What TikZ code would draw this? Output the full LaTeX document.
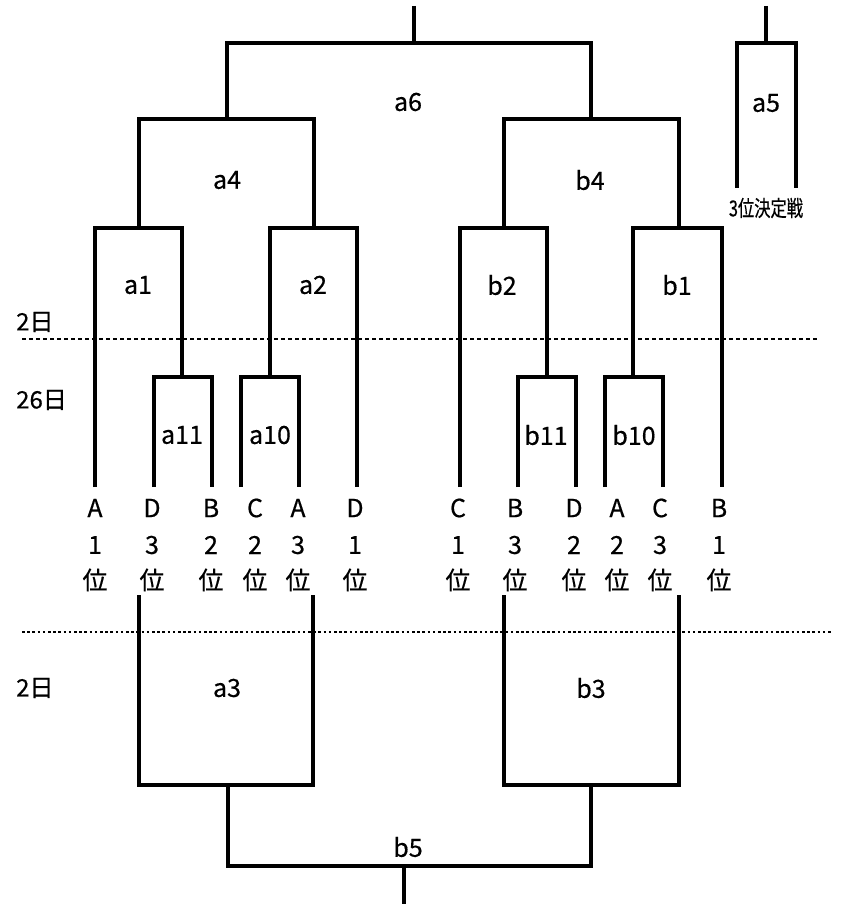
\documentclass[tikz,border=0pt]{standalone}
\usepackage{fontspec}
\setmainfont{Noto Sans CJK JP}[FakeBold=0.5]
\begin{document}
\begin{tikzpicture}[x=1pt,y=-1pt,
  bout/.style={line width=3.6pt},
  lbl/.style={inner sep=0pt,font=\fontsize{25}{25}\selectfont},
  team/.style={inner sep=0pt,font=\fontsize{25}{25}\selectfont},
  day/.style={inner sep=0pt,anchor=west,font=\fontsize{24}{24}\selectfont}]
\useasboundingbox (0,0) rectangle (841,904);

%day lines
\draw [line width=1.3pt,dash pattern=on 4pt off 3pt] (22,339) -- (817,339);
\draw [line width=2.2pt,dash pattern=on 2.6pt off 2.6pt] (22,632) -- (833,632);
\node [day] (d1) at (16,322) {2日};
\node [day] (d2) at (16,400) {26日};
\node [day] (d3) at (16,688) {2日};

%final
\draw [bout] (414,6) -- (414,43);
\draw [bout] (227,119) -- (227,43) -- (591,43) -- (591,119);
\node [lbl] (a6) at (408,102) {a6};

%semi finals
\draw [bout] (139,228) -- (139,119) -- (314,119) -- (314,228);
\node [lbl] (a4) at (227,180) {a4};
\draw [bout] (504,228) -- (504,119) -- (679,119) -- (679,228);
\node [lbl] (b4) at (590,180) {b4};

%third place
\draw [bout] (766,6) -- (766,43);
\draw [bout] (737,188) -- (737,43) -- (796,43) -- (796,188);
\node [lbl] (a5) at (766,103) {a5};
\node [inner sep=0pt,font=\fontsize{22}{22}\selectfont] (a5t) at (766,208)
  {\scalebox{0.74}[1]{3位決定戦}};

%quarter finals
\draw [bout] (95,487) -- (95,228) -- (182,228) -- (182,377);
\node [lbl] (a1) at (138,285) {a1};
\draw [bout] (270,377) -- (270,228) -- (357,228) -- (357,487);
\node [lbl] (a2) at (313,285) {a2};
\draw [bout] (460,487) -- (460,228) -- (547,228) -- (547,377);
\node [lbl] (b2) at (502,285) {b2};
\draw [bout] (633,377) -- (633,228) -- (722,228) -- (722,487);
\node [lbl] (b1) at (677,285) {b1};

%first round
\draw [bout] (154,487) -- (154,377) -- (212,377) -- (212,487);
\node [lbl] (a11) at (182,435) {a11};
\draw [bout] (241,487) -- (241,377) -- (299,377) -- (299,487);
\node [lbl] (a10) at (270,435) {a10};
\draw [bout] (518,487) -- (518,377) -- (576,377) -- (576,487);
\node [lbl] (b11) at (546,435) {b11};
\draw [bout] (605,487) -- (605,377) -- (663,377) -- (663,487);
\node [lbl] (b10) at (634,435) {b10};

%teams
\foreach \x/\g/\r [count=\i] in {95/A/1,152/D/3,211/B/2,255/C/2,298/A/3,355/D/1,
    458/C/1,515/B/3,574/D/2,617/A/2,660/C/3,719/B/1} {
  \node [team] (g\i) at (\x,508) {\g};
  \node [team] (r\i) at (\x,545) {\r};
  \node [team] (p\i) at (\x,580) {位};
}

%placing round
\draw [bout] (139,595) -- (139,785) -- (313,785) -- (313,595);
\node [lbl] (a3) at (227,688) {a3};
\draw [bout] (504,595) -- (504,785) -- (679,785) -- (679,595);
\node [lbl] (b3) at (591,688) {b3};
\draw [bout] (228,785) -- (228,866) -- (591,866) -- (591,785);
\draw [bout] (404,866) -- (404,904);
\node [lbl] (b5) at (408,847) {b5};
\end{tikzpicture}
\end{document}
